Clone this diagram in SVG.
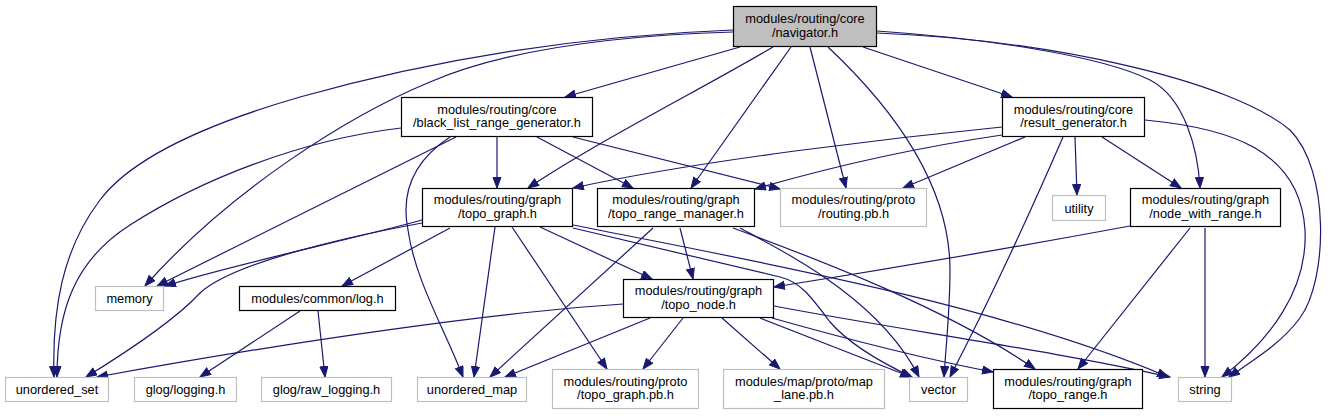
<svg xmlns="http://www.w3.org/2000/svg" width="1329" height="416" viewBox="0 0 1329 416">
<style>
.b{fill:#ffffff;stroke:#000000;stroke-width:1.2}
.g{fill:#ffffff;stroke:#bfbfbf;stroke-width:1.2}
.m{fill:#bfbfbf;stroke:#000000;stroke-width:1.2}
text{font-family:"Liberation Sans",Arial,sans-serif;font-size:12.8px;fill:#000000;text-anchor:middle}
.e path{fill:none;stroke:#191970;stroke-width:1.2;marker-end:url(#a)}
</style>
<defs>
<marker id="a" markerUnits="userSpaceOnUse" markerWidth="12" markerHeight="10" refX="11" refY="4.5" orient="auto">
<path d="M0.5,0.5 L11,4.5 L0.5,8.5 z" fill="#191970" stroke="#191970" stroke-width="1"/>
</marker>
</defs>
<rect width="1329" height="416" fill="#ffffff"/>
<g class="e" id="edges">
<path d="M740,47 L565,97"/>
<path d="M773,47 C700,90 600,140 528,188"/>
<path d="M791,47 L691,188"/>
<path d="M810,47 L846,188"/>
<path d="M828,47 C895,110 950,185 950,270 C950,310 946,345 944,377"/>
<path d="M863,47 L1012,97"/>
<path d="M877,31 C980,38 1100,55 1150,80 C1185,98 1198,150 1200,188"/>
<path d="M877,33 C1050,40 1230,80 1290,130 C1330,170 1328,280 1300,318 C1280,345 1250,362 1229,377"/>
<path d="M733,32 C600,36 500,52 430,82 C350,115 230,190 145,286"/>
<path d="M733,30 C600,35 450,55 300,97 C200,126 130,160 100,200 C62,250 52,310 54,377"/>
<path d="M401,128 C300,140 200,180 130,225 C75,260 57,310 57,377"/>
<path d="M456,137 L157,286"/>
<path d="M450,137 C415,160 400,190 408,230 C415,280 445,330 463,377"/>
<path d="M497,137 L497,188"/>
<path d="M537,137 L633,188"/>
<path d="M573,137 L780,189"/>
<path d="M1002,127 C900,137 700,160 573,188"/>
<path d="M1002,135 C900,150 820,170 755,189"/>
<path d="M1025,137 L903,188"/>
<path d="M1063,137 C1040,190 1000,280 950,377"/>
<path d="M1075,137 L1077,195"/>
<path d="M1102,137 L1181,188"/>
<path d="M1145,120 C1230,128 1300,150 1305,230 C1308,290 1270,340 1222,377"/>
<path d="M422,220 C350,240 230,265 165,286"/>
<path d="M422,223 C330,240 230,265 200,293 C175,320 130,350 86,377"/>
<path d="M450,228 L342,286"/>
<path d="M495,227 L474,377"/>
<path d="M512,227 L607,369"/>
<path d="M540,227 L652,279"/>
<path d="M573,228 L780,277 C800,282 810,295 830,322 C850,345 880,362 912,377"/>
<path d="M573,225 C750,260 1000,305 1168,377"/>
<path d="M680,228 L693,279"/>
<path d="M653,228 L490,377"/>
<path d="M740,228 C790,255 880,300 919,377"/>
<path d="M733,228 C820,260 950,310 1035,369"/>
<path d="M623,304 C500,312 300,340 97,377"/>
<path d="M650,318 L505,377"/>
<path d="M683,318 L643,369"/>
<path d="M722,318 L780,369"/>
<path d="M760,318 L911,377"/>
<path d="M772,318 C850,340 930,360 993,372"/>
<path d="M774,306 C900,330 1050,350 1170,377"/>
<path d="M1130,226 C1000,250 850,275 774,287"/>
<path d="M1190,228 L1078,369"/>
<path d="M1205,228 L1205,377"/>
<path d="M300,311 L200,377"/>
<path d="M318,311 L325,377"/>
</g>
<g id="n0"><rect class="m" x="733.5" y="6.5" width="143" height="40"/><text x="805" y="23">modules/routing/core</text><text x="805" y="36.5">/navigator.h</text></g>
<g id="n1"><rect class="b" x="401.5" y="97.5" width="191" height="39"/><text x="497" y="113.5">modules/routing/core</text><text x="497" y="127">/black_list_range_generator.h</text></g>
<g id="n2"><rect class="b" x="1002.5" y="97.5" width="142" height="39"/><text x="1073.5" y="113.5">modules/routing/core</text><text x="1073.5" y="127">/result_generator.h</text></g>
<g id="n3"><rect class="b" x="422.5" y="188.5" width="150" height="38"/><text x="497.5" y="204">modules/routing/graph</text><text x="497.5" y="217.5">/topo_graph.h</text></g>
<g id="n4"><rect class="b" x="597.5" y="188.5" width="157" height="38"/><text x="676" y="204">modules/routing/graph</text><text x="676" y="217.5">/topo_range_manager.h</text></g>
<g id="n5"><rect class="g" x="780.5" y="188.5" width="146" height="38"/><text x="853.5" y="204">modules/routing/proto</text><text x="853.5" y="217.5">/routing.pb.h</text></g>
<g id="n6"><rect class="g" x="1052.5" y="195.5" width="53" height="25"/><text x="1079" y="212.5">utility</text></g>
<g id="n7"><rect class="b" x="1130.5" y="188.5" width="150" height="38"/><text x="1205.5" y="204">modules/routing/graph</text><text x="1205.5" y="217.5">/node_with_range.h</text></g>
<g id="n8"><rect class="g" x="95.5" y="286.5" width="68" height="24"/><text x="129.5" y="303">memory</text></g>
<g id="n9"><rect class="b" x="239.5" y="286.5" width="156" height="24"/><text x="317.5" y="303">modules/common/log.h</text></g>
<g id="n10"><rect class="b" x="623.5" y="279.5" width="150" height="38"/><text x="698.5" y="295">modules/routing/graph</text><text x="698.5" y="308.5">/topo_node.h</text></g>
<g id="n11"><rect class="g" x="5.5" y="377.5" width="103" height="24"/><text x="57" y="394">unordered_set</text></g>
<g id="n12"><rect class="g" x="134.5" y="377.5" width="102" height="24"/><text x="185.5" y="394">glog/logging.h</text></g>
<g id="n13"><rect class="g" x="261.5" y="377.5" width="130" height="24"/><text x="326.5" y="394">glog/raw_logging.h</text></g>
<g id="n14"><rect class="g" x="417.5" y="377.5" width="109" height="24"/><text x="472" y="394">unordered_map</text></g>
<g id="n15"><rect class="g" x="552.5" y="369.5" width="146" height="39"/><text x="625.5" y="385.5">modules/routing/proto</text><text x="625.5" y="399">/topo_graph.pb.h</text></g>
<g id="n16"><rect class="g" x="723.5" y="369.5" width="161" height="39"/><text x="804" y="385.5">modules/map/proto/map</text><text x="804" y="399">_lane.pb.h</text></g>
<g id="n17"><rect class="g" x="909.5" y="377.5" width="58" height="24"/><text x="938.5" y="394">vector</text></g>
<g id="n18"><rect class="b" x="993.5" y="369.5" width="149" height="39"/><text x="1068" y="385.5">modules/routing/graph</text><text x="1068" y="399">/topo_range.h</text></g>
<g id="n19"><rect class="g" x="1178.5" y="377.5" width="53" height="24"/><text x="1205" y="394">string</text></g>
</svg>
